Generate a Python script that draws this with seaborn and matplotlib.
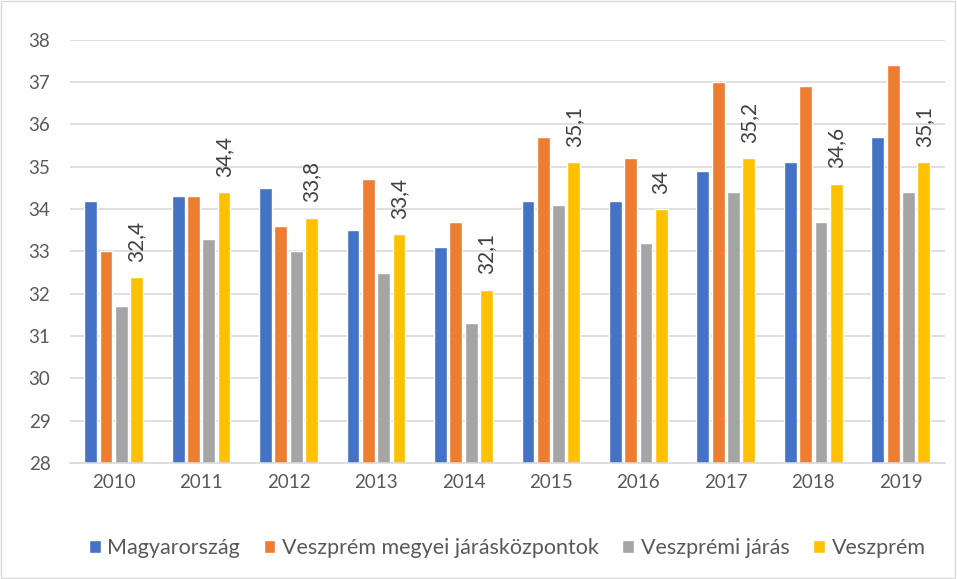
import pandas as pd
import seaborn as sns
import matplotlib.pyplot as plt
from matplotlib.patches import Rectangle

# Data
years = ['2010', '2011', '2012', '2013', '2014', '2015', '2016', '2017', '2018', '2019']
series = ['Magyarország', 'Veszprém megyei járásközpontok', 'Veszprémi járás', 'Veszprém']
magyarorszag = [34.2, 34.3, 34.5, 33.5, 33.1, 34.2, 34.2, 34.9, 35.1, 35.7]
jaraskozpontok = [33.0, 34.3, 33.6, 34.7, 33.7, 35.7, 35.2, 37.0, 36.9, 37.4]
veszpremi_jaras = [31.7, 33.3, 33.0, 32.5, 31.3, 34.1, 33.2, 34.4, 33.7, 34.4]
veszprem = [32.4, 34.4, 33.8, 33.4, 32.1, 35.1, 34.0, 35.2, 34.6, 35.1]

colors = ['#4472C4', '#ED7D31', '#A5A5A5', '#FFC000']

df = pd.DataFrame({
    'Year': years * 4,
    'Series': [s for s in series for _ in years],
    'Value': magyarorszag + jaraskozpontok + veszpremi_jaras + veszprem,
})

sns.set_style('white')
plt.rcParams['font.family'] = ['Lato', 'DejaVu Sans']

fig = plt.figure(figsize=(9.57, 5.79), dpi=100)
ax = fig.add_axes([0.073, 0.2, 0.914, 0.7316])

sns.barplot(data=df, x='Year', y='Value', hue='Series', palette=colors,
            saturation=1, width=0.7, gap=0.16, ax=ax, legend=True)

ax.set_ylim(28, 38)
ax.set_yticks(range(28, 39))
ax.set_xlabel('')
ax.set_ylabel('')
ax.grid(axis='y', color='#d9d9d9', linewidth=1.2)
ax.set_axisbelow(True)
for side in ['left', 'right', 'top']:
    ax.spines[side].set_visible(False)
ax.spines['bottom'].set_color('#d9d9d9')
ax.spines['bottom'].set_linewidth(1.2)
ax.tick_params(axis='both', length=0, labelsize=13.5, labelcolor='#595959', pad=8)
ax.tick_params(axis='y', pad=14)

# Data labels only for Veszprém
yellow = ax.containers[3]
ax.bar_label(yellow, labels=[f'{v:g}'.replace('.', ',') for v in veszprem],
             rotation=90, padding=11, fontsize=15, color='#404040')

ax.legend(loc='center', bbox_to_anchor=(0.5, -0.2), ncol=4, frameon=False,
          fontsize=15.5, handlelength=0.55, handleheight=0.55, handletextpad=0.3,
          columnspacing=1.1, labelcolor='#595959')

fig.patches.append(Rectangle((0.001, 0.002), 0.997, 0.996, transform=fig.transFigure,
                             fill=False, edgecolor='#d9d9d9', linewidth=1))

fig.savefig('out.png', dpi=100)
